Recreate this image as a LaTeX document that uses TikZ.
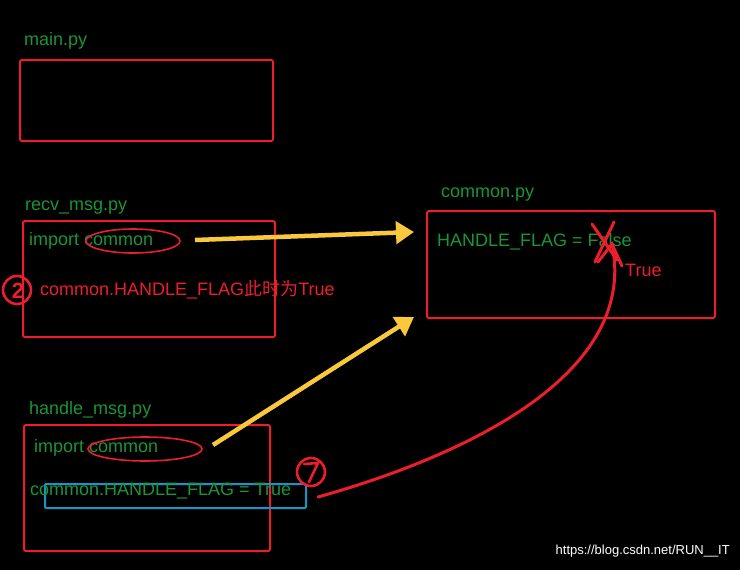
\documentclass[tikz,border=0pt]{standalone}
\usepackage{fontspec}
\setmainfont{Liberation Sans}
\newfontfamily\cjk{Noto Sans CJK SC}
\usetikzlibrary{arrows.meta}
\definecolor{tg}{RGB}{25,150,55}
\definecolor{rr}{RGB}{235,30,45}
\definecolor{yy}{RGB}{250,200,60}
\definecolor{bb}{RGB}{20,150,200}
\begin{document}
\begin{tikzpicture}[x=1pt,y=-1pt,
  box/.style={draw=rr,line width=2pt,rounded corners=2pt},
  txt/.style={anchor=west,inner sep=0,font=\fontsize{18}{20}\selectfont},
  yarr/.style={draw=yy,line width=4.5pt,-{Triangle[length=18pt,width=22pt]}},
  hand/.style={draw=rr,line width=3pt,line cap=round}]
\fill[black] (0,0) rectangle (740,570);
\useasboundingbox (0,0) rectangle (740,570);
\draw[box] (20,60) rectangle (273,141);
\draw[box] (23,221) rectangle (275,337);
\draw[box] (427,211) rectangle (715,318);
\draw[box] (24,425) rectangle (270,551);
\draw[draw=bb,line width=2pt,rounded corners=1pt] (45,484) rectangle (306,508);
\node[txt,tg] (tmain) at (24,41) {main.py};
\node[txt,tg] (trecv) at (25,208) {recv\_msg.py};
\node[txt,tg] (tcom) at (441,195) {common.py};
\node[txt,tg] (thand) at (29,410) {handle\_msg.py};
\node[txt,tg] (ri) at (29,241) {import common};
\draw[rr,line width=1.6pt] (133,241) ellipse (47 and 12);
\node[txt,rr] (rt) at (40,290) {common.HANDLE\_FLAG{\cjk 此时为}True};
\node[txt,tg] (hi) at (34,448) {import common};
\draw[rr,line width=1.6pt] (145,449) ellipse (57 and 12);
\node[txt,tg] (hs) at (30,491) {common.HANDLE\_FLAG = True};
\node[txt,tg] (cf) at (437,242) {HANDLE\_FLAG = False};
\node[txt,rr] (ct) at (625,270) {True};
\draw[hand] (592,224) -- (617,260) (614,222) -- (595,262);
\draw[hand,line width=2.6pt] (17,290) circle (14);
\node[rr,font=\bfseries\fontsize{22}{22}\selectfont] (n2) at (18,291) {2};
\draw[hand,line width=2.6pt] (311,472) circle (14);
\draw[hand,line width=2.6pt] (304,464) -- (318,463) -- (309,482);
\coordinate (a1) at (195,240); \coordinate (b1) at (414,232);
\coordinate (a2) at (213,445); \coordinate (b2) at (414,317);
\draw[yarr] (a1) -- (b1);
\draw[yarr] (a2) -- (b2);
\coordinate (c1) at (318,497); \coordinate (c2) at (612,244);
\draw[hand] (c1) .. controls (450,460) and (640,380) .. (c2);
\draw[hand] (598,262) -- (612,244) -- (622,266);
\node[white,anchor=east,inner sep=0,font=\fontsize{13}{15}\selectfont] (wm) at (730,551) {https://blog.csdn.net/RUN\_\_IT};
\end{tikzpicture}
\end{document}
